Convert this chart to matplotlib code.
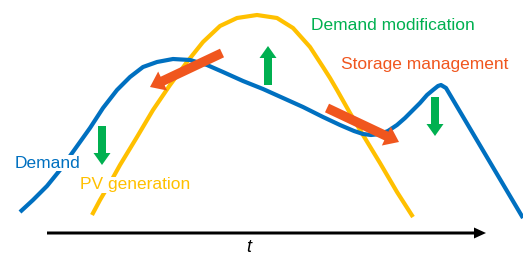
import matplotlib
matplotlib.use("Agg")
import matplotlib.pyplot as plt

# curves (pixel coords, y down)
demand_x = [20, 33, 47, 60, 75, 90, 103, 117, 130, 143, 157, 173, 190, 207, 223, 243,
            263, 283, 303, 323, 340, 354, 363, 371, 380, 388, 397, 405, 413, 420, 427,
            433, 438, 441, 446, 523]
demand_y = [212, 200, 186, 170, 149, 128, 108, 90, 77, 67, 62, 59, 60, 65, 72, 81,
            89, 98, 107, 117, 125, 131, 134, 135, 134, 131, 125, 118, 110, 103, 95,
            90, 86, 85, 88, 218]
pv_x = [92, 100, 110, 120, 137, 153, 170, 187, 203, 220, 237, 257, 277, 293, 310, 323,
        330, 337, 350, 363, 380, 397, 413]
pv_y = [215, 200, 183, 165, 137, 110, 85, 62, 42, 26, 18, 15, 18, 28, 47, 67,
        78, 90, 113, 135, 163, 192, 217]

# arrows: (tail, tip)
storage_arrows = [((222, 53), (150, 87)), ((327, 108), (399, 142))]
modif_arrows = [((102, 126), (102, 165)), ((268, 85), (268, 46)), ((435, 97), (435, 136))]

BLUE = "#0070C0"
YELLOW = "#FFC000"
GREEN = "#00B050"
ORANGE = "#F0561E"
FONT = "Liberation Sans"

fig = plt.figure(figsize=(5.23, 2.57), dpi=100)
ax = fig.add_axes([0, 0, 1, 1])
ax.set_xlim(0, 523)
ax.set_ylim(257, 0)
ax.axis("off")

ax.plot(pv_x, pv_y, color=YELLOW, lw=3, solid_capstyle="butt",
        solid_joinstyle="round", zorder=2)
ax.plot(demand_x, demand_y, color=BLUE, lw=3, solid_capstyle="butt",
        solid_joinstyle="round", zorder=3)

for (x0, y0), (x1, y1) in storage_arrows:
    ax.arrow(x0, y0, x1 - x0, y1 - y0, width=9.5, head_width=21, head_length=14,
             length_includes_head=True, color=ORANGE, lw=0, zorder=4)
for (x0, y0), (x1, y1) in modif_arrows:
    ax.arrow(x0, y0, x1 - x0, y1 - y0, width=8, head_width=17, head_length=12,
             length_includes_head=True, color=GREEN, lw=0, zorder=4)

# time axis
ax.arrow(47, 233, 439, 0, width=3, head_width=11, head_length=12,
         length_includes_head=True, color="black", lw=0)
ax.text(249, 256, "t", fontsize=13, style="italic", ha="center", va="bottom",
        family=FONT)

fs = 12.5
box = dict(facecolor="white", edgecolor="none", pad=0.5)
ax.text(15, 163, "Demand", color=BLUE, fontsize=fs, va="center", family=FONT,
        bbox=box, zorder=5)
ax.text(80, 185, "PV generation", color=YELLOW, fontsize=fs, va="center",
        family=FONT, bbox=box, zorder=5)
ax.text(311, 26, "Demand modification", color=GREEN, fontsize=fs, va="center",
        family=FONT)
ax.text(341, 65, "Storage management", color=ORANGE, fontsize=fs, va="center",
        family=FONT)

plt.savefig("out.png", dpi=100)
